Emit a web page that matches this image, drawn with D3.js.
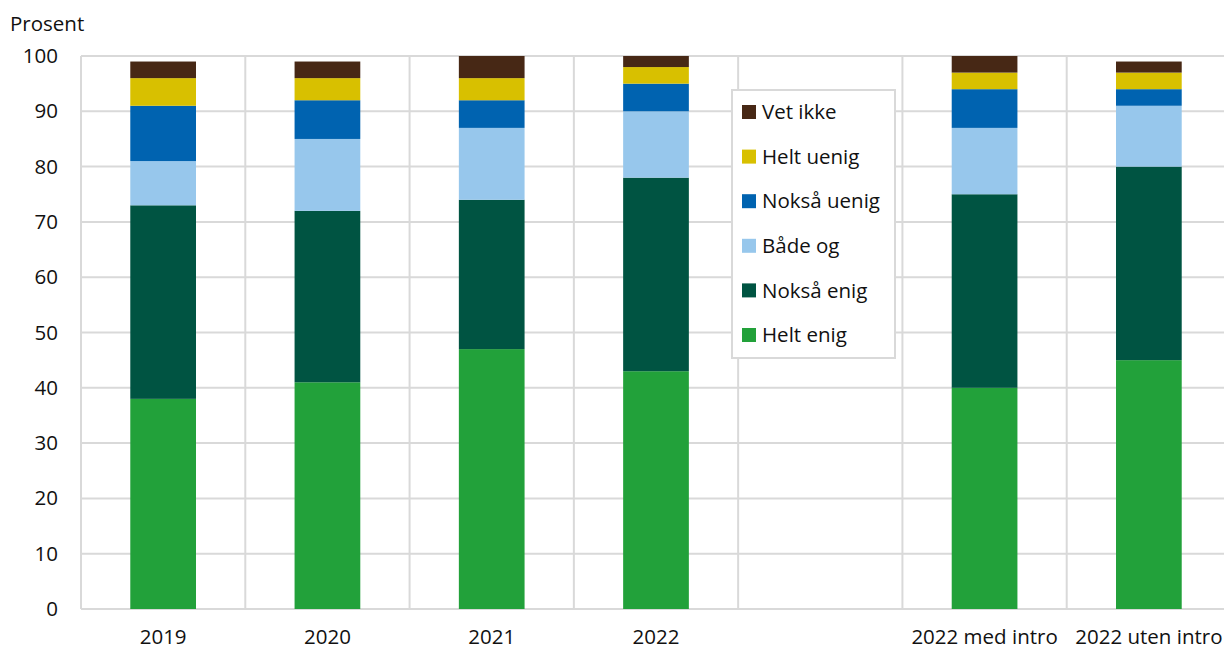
<!DOCTYPE html>
<html>
<head>
<meta charset="utf-8">
<script src="https://cdn.jsdelivr.net/npm/d3@7"></script>
<style>
  body { margin: 0; background: #fff; }
  svg text { font-family: "Open Sans", "Noto Sans", sans-serif; fill: #111; }
</style>
</head>
<body>
<div id="chartArea"></div>
<script>
// categories (the blank one is the gap between 2022 and the intro split)
let categories = ['2019', '2020', '2021', '2022', '', '2022 med intro', '2022 uten intro']
let series = ['Helt enig', 'Nokså enig', 'Både og', 'Nokså uenig', 'Helt uenig', 'Vet ikke']
let colors = ['#22a13a', '#005442', '#97c7ec', '#0063b0', '#d8c000', '#472815']

let heltEnig   = [38, 41, 47, 43, null, 40, 45]
let noksaEnig  = [35, 31, 27, 35, null, 35, 35]
let badeOg     = [8, 13, 13, 12, null, 12, 11]
let noksaUenig = [10, 7, 5, 5, null, 7, 3]
let heltUenig  = [5, 4, 4, 3, null, 3, 3]
let vetIkke    = [3, 3, 4, 2, null, 3, 2]

let yTicks = [0, 10, 20, 30, 40, 50, 60, 70, 80, 90, 100]

let svgWidth = 1224
let svgHeight = 648
let fontSize = 20.5

let rows = categories.map((c, i) => ({
  key: c === '' ? 'gap' : c,
  label: c,
  'Helt enig': heltEnig[i],
  'Nokså enig': noksaEnig[i],
  'Både og': badeOg[i],
  'Nokså uenig': noksaUenig[i],
  'Helt uenig': heltUenig[i],
  'Vet ikke': vetIkke[i]
}))

let stacked = d3.stack().keys(series).value((d, k) => d[k] || 0)(rows)

let xScale = d3.scaleBand()
  .domain(rows.map(d => d.key))
  .range([81, 1231])
  .padding(0)

let yScale = d3.scaleLinear()
  .domain([0, 100])
  .range([609, 56])

let colorScale = d3.scaleOrdinal().domain(series).range(colors)

let svg = d3.select('#chartArea')
  .append('svg')
  .attr('width', svgWidth)
  .attr('height', svgHeight)

// horizontal grid
svg.append('g')
  .selectAll('line')
  .data(yTicks)
  .enter()
  .append('line')
  .attr('x1', 81)
  .attr('x2', 1231)
  .attr('y1', d => yScale(d))
  .attr('y2', d => yScale(d))
  .attr('stroke', '#d9d9d9')
  .attr('stroke-width', 2)

// vertical grid at category boundaries
let bounds = rows.map(d => xScale(d.key)).concat([xScale.range()[1]])
svg.append('g')
  .selectAll('line')
  .data(bounds)
  .enter()
  .append('line')
  .attr('x1', d => d)
  .attr('x2', d => d)
  .attr('y1', yScale(100))
  .attr('y2', yScale(0))
  .attr('stroke', '#d9d9d9')
  .attr('stroke-width', 2)

// y axis labels
let yAxis = svg.append('g')
  .attr('transform', 'translate(81,0)')
  .call(d3.axisLeft(yScale).tickValues(yTicks).tickSize(0).tickPadding(23))
yAxis.select('.domain').remove()
yAxis.selectAll('text')
  .attr('font-size', fontSize)
  .attr('font-family', '"Open Sans", sans-serif')
  .attr('fill', '#111')

// x axis labels
let xAxis = svg.append('g')
  .attr('transform', 'translate(0,609)')
  .call(d3.axisBottom(xScale).tickSize(0).tickPadding(20)
    .tickFormat(k => rows.find(r => r.key === k).label))
xAxis.select('.domain').remove()
xAxis.selectAll('text')
  .attr('font-size', fontSize)
  .attr('font-family', '"Open Sans", sans-serif')
  .attr('fill', '#111')

svg.append('text')
  .attr('x', 10)
  .attr('y', 31)
  .attr('font-size', fontSize)
  .text('Prosent')

// bars
let barW = xScale.bandwidth() * 0.4
svg.append('g')
  .selectAll('g')
  .data(stacked)
  .enter()
  .append('g')
  .attr('fill', d => colorScale(d.key))
  .selectAll('rect')
  .data(d => d.filter(p => p.data.key !== 'gap'))
  .enter()
  .append('rect')
  .attr('x', d => xScale(d.data.key) + (xScale.bandwidth() - barW) / 2)
  .attr('y', d => yScale(d[1]))
  .attr('width', barW)
  .attr('height', d => yScale(d[0]) - yScale(d[1]))

// legend
let legend = svg.append('g').attr('transform', 'translate(732,90)')
legend.append('rect')
  .attr('width', 163)
  .attr('height', 268)
  .attr('fill', '#fff')
  .attr('stroke', '#d9d9d9')
  .attr('stroke-width', 2)

let items = legend.selectAll('.item')
  .data(series.slice().reverse())
  .enter()
  .append('g')
  .attr('class', 'item')
  .attr('transform', (d, i) => 'translate(10,' + (22 + i * 44.6) + ')')
items.append('rect')
  .attr('y', -7)
  .attr('width', 14)
  .attr('height', 14)
  .attr('fill', d => colorScale(d))
items.append('text')
  .attr('x', 20)
  .attr('dy', '0.35em')
  .attr('font-size', fontSize)
  .text(d => d)
</script>
</body>
</html>
